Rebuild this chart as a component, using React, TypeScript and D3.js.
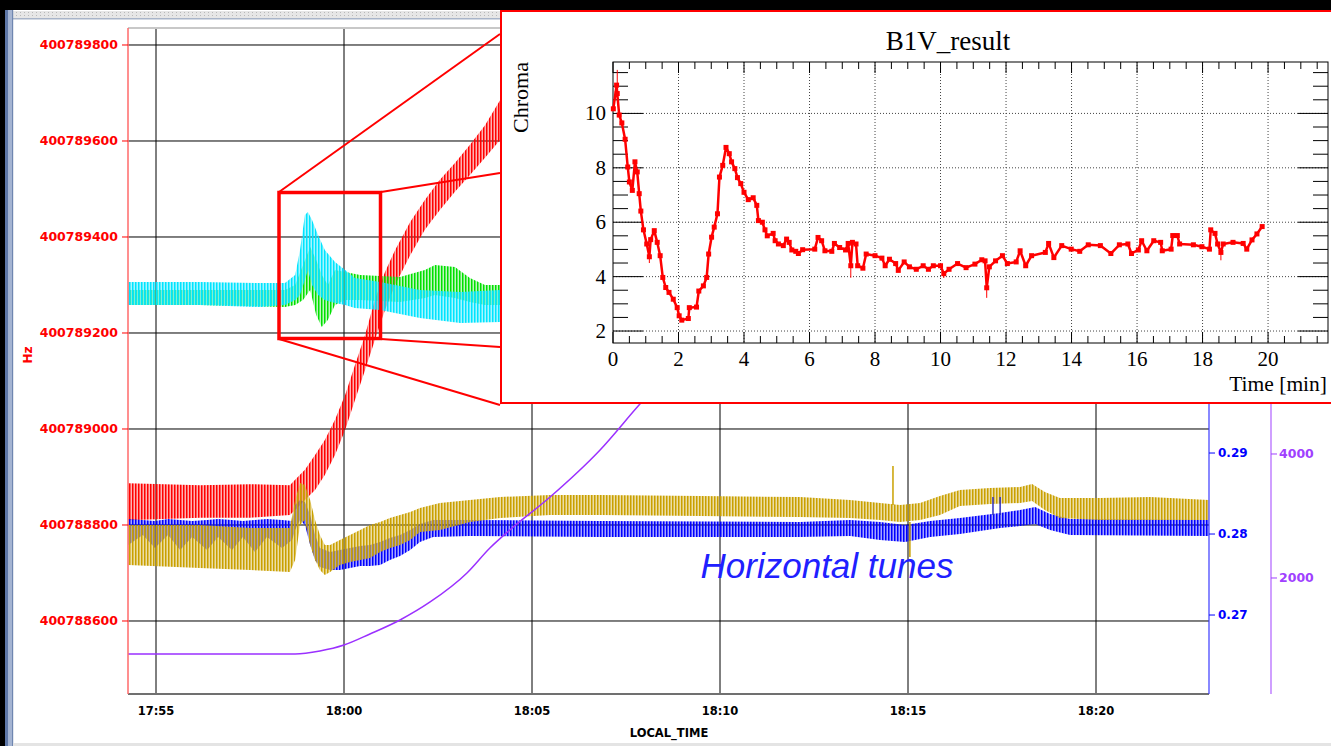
import React from "react";
import * as d3 from "d3";

const W = 1331;
const H = 746;

// ---------- main chart data (time = minutes after 17:00) ----------
const timeTicks = [55, 60, 65, 70, 75, 80];
const timeTickLabels = ["17:55", "18:00", "18:05", "18:10", "18:15", "18:20"];
const hzTicks = [400788600, 400788800, 400789000, 400789200, 400789400, 400789600, 400789800];
const tuneTicks = [0.27, 0.28, 0.29];
const currentTicks = [2000, 4000];

// RF frequency (Hz) envelope
const redT = [54.26, 56.17, 57.5, 58.56, 58.7, 58.96, 59.23, 59.49, 59.76, 60.03, 60.29, 60.56, 60.82, 61.09, 61.36, 61.76, 62.15, 62.55, 62.95, 63.35, 63.75, 64.15, 64.55];
const redLo = [400788810, 400788815, 400788815, 400788821, 400788831, 400788852, 400788873, 400788904, 400788946, 400788998, 400789060, 400789123, 400789185, 400789248, 400789300, 400789362, 400789415, 400789456, 400789494, 400789529, 400789565, 400789602, 400789630];
const redHi = [400788887, 400788883, 400788885, 400788883, 400788894, 400788915, 400788946, 400788977, 400789019, 400789071, 400789133, 400789196, 400789269, 400789327, 400789373, 400789431, 400789477, 400789519, 400789554, 400789592, 400789633, 400789685, 400789715];

// vertical tunes (cyan / green)
const cyanT = [54.26, 56.17, 57.77, 58.43, 58.7, 58.83, 58.96, 59.04, 59.15, 59.31, 59.49, 59.76, 60.03, 60.29, 60.96, 62.02, 63.09, 64.15, 64.68];
const cyanLo = [0.30827, 0.30827, 0.30802, 0.30827, 0.30889, 0.30951, 0.31136, 0.31259, 0.31074, 0.30951, 0.30889, 0.30852, 0.30827, 0.3079, 0.30765, 0.30667, 0.30605, 0.30617, 0.3062];
const cyanHi = [0.31111, 0.31111, 0.31099, 0.31099, 0.31198, 0.31506, 0.31938, 0.31975, 0.31877, 0.31691, 0.31506, 0.31358, 0.31259, 0.3116, 0.31111, 0.31012, 0.30988, 0.31012, 0.31];

const greenT = [54.26, 56.17, 58.43, 58.7, 58.91, 59.1, 59.26, 59.41, 59.57, 59.76, 60.03, 60.43, 61.49, 62.15, 62.42, 62.95, 63.35, 63.75, 64.15, 64.68];
const greenLo = [0.30827, 0.30827, 0.30802, 0.30827, 0.30889, 0.31012, 0.30704, 0.30556, 0.30642, 0.30827, 0.30889, 0.30889, 0.30864, 0.30914, 0.30951, 0.30914, 0.30864, 0.30827, 0.30827, 0.30827];
const greenHi = [0.31012, 0.31012, 0.31012, 0.31074, 0.31321, 0.31543, 0.31383, 0.31198, 0.31074, 0.31259, 0.31235, 0.31198, 0.31173, 0.31259, 0.31321, 0.31296, 0.3116, 0.31074, 0.31074, 0.31074];

// horizontal tunes (blue / gold)
const blueT = [54.26, 54.65, 54.97, 55.32, 55.64, 55.96, 56.36, 56.65, 57.02, 57.31, 57.63, 57.95, 58.35, 58.62, 58.7, 58.83, 58.96, 59.1, 59.23, 59.36, 59.63, 59.89, 60.16, 60.43, 60.69, 60.96, 61.22, 61.49, 61.76, 62.02, 62.37, 63.35, 66.81, 72.13, 73.46, 74.26, 74.92, 75.59, 76.38, 77.45, 77.98, 78.38, 78.78, 79.31, 83.0];
const blueLo = [0.27864, 0.27988, 0.27827, 0.27988, 0.27802, 0.27963, 0.27802, 0.27963, 0.27802, 0.27963, 0.27778, 0.27963, 0.27827, 0.27926, 0.28049, 0.28173, 0.28111, 0.27864, 0.27679, 0.27593, 0.27556, 0.27556, 0.2758, 0.27605, 0.27605, 0.27617, 0.27679, 0.27728, 0.27802, 0.27901, 0.27963, 0.27975, 0.27963, 0.27963, 0.27975, 0.27926, 0.27901, 0.27963, 0.28, 0.28074, 0.28099, 0.28123, 0.28049, 0.27988, 0.27975];
const blueHi = [0.28185, 0.28173, 0.2816, 0.28185, 0.28173, 0.2816, 0.28173, 0.28185, 0.28173, 0.2816, 0.28173, 0.28185, 0.28173, 0.2816, 0.28358, 0.2842, 0.28395, 0.28235, 0.27988, 0.27827, 0.27778, 0.27802, 0.27827, 0.27852, 0.27864, 0.27901, 0.27951, 0.27988, 0.28049, 0.28123, 0.28173, 0.28173, 0.2816, 0.28148, 0.28173, 0.28148, 0.28111, 0.2816, 0.28198, 0.28259, 0.28296, 0.28333, 0.28247, 0.28185, 0.28173];

const goldT = [54.26, 56.17, 57.5, 58.56, 58.7, 58.83, 58.96, 59.1, 59.23, 59.36, 59.49, 59.63, 59.89, 60.16, 60.43, 60.69, 60.96, 61.22, 61.49, 61.76, 62.02, 62.55, 63.35, 64.15, 65.48, 66.81, 69.47, 72.13, 73.46, 74.26, 74.79, 75.32, 75.85, 76.38, 77.18, 77.98, 78.3, 78.64, 79.04, 80.11, 81.44, 83.0];
const goldLo = [0.27617, 0.2758, 0.27556, 0.27531, 0.27679, 0.28111, 0.28173, 0.27864, 0.27679, 0.27556, 0.27494, 0.27531, 0.27617, 0.27654, 0.27679, 0.27704, 0.27778, 0.27827, 0.27864, 0.27926, 0.28025, 0.28049, 0.28148, 0.28198, 0.28235, 0.28235, 0.28222, 0.2821, 0.28198, 0.28173, 0.28148, 0.28173, 0.28235, 0.28346, 0.2837, 0.28383, 0.28408, 0.28296, 0.28198, 0.28173, 0.28173, 0.28173];
const goldHi = [0.28111, 0.28111, 0.28074, 0.28074, 0.2842, 0.2863, 0.28605, 0.2842, 0.28173, 0.27988, 0.27864, 0.27864, 0.27926, 0.27988, 0.28049, 0.28111, 0.28148, 0.28198, 0.28235, 0.28272, 0.28321, 0.28383, 0.2842, 0.28457, 0.28481, 0.28481, 0.28469, 0.28457, 0.2842, 0.28383, 0.28358, 0.28383, 0.28469, 0.28543, 0.28568, 0.2858, 0.28617, 0.28519, 0.28444, 0.28444, 0.28457, 0.2842];
const goldSpikeT = [74.6, 75.05];
const goldSpikeLo = [0.28358, 0.27716];
const goldSpikeHi = [0.2884, 0.28148];
const blueSpikeT = [77.26, 77.45];
const blueSpikeLo = [0.28235, 0.28235];
const blueSpikeHi = [0.28457, 0.28457];

// beam current (purple)
const curT = [54.26, 58.7, 59.36, 60.0, 60.69, 61.49, 62.29, 63.27, 63.88, 64.41, 65.48, 66.81, 67.87, 69.47];
const curV = [774, 774, 823, 919, 1097, 1323, 1613, 2081, 2484, 2774, 3306, 4065, 4806, 5839];

// ---------- inset data ----------
const chromaT = [0.01, 0.11, 0.13, 0.19, 0.27, 0.37, 0.45, 0.5, 0.59, 0.67, 0.74, 0.8, 0.85, 0.93, 1.03, 1.11, 1.15, 1.26, 1.35, 1.44, 1.52, 1.61, 1.71, 1.84, 1.96, 2.02, 2.1, 2.3, 2.33, 2.55, 2.62, 2.76, 2.86, 2.92, 3.01, 3.09, 3.19, 3.25, 3.35, 3.45, 3.55, 3.62, 3.72, 3.8, 3.9, 4.0, 4.13, 4.28, 4.39, 4.44, 4.56, 4.64, 4.71, 4.89, 4.95, 5.05, 5.2, 5.3, 5.38, 5.46, 5.58, 5.66, 5.79, 6.16, 6.26, 6.37, 6.47, 6.68, 6.76, 6.92, 7.1, 7.18, 7.26, 7.31, 7.42, 7.47, 7.63, 7.73, 8.0, 8.21, 8.31, 8.44, 8.63, 8.71, 8.89, 9.05, 9.26, 9.47, 9.63, 9.78, 10.0, 10.1, 10.26, 10.52, 10.78, 11.05, 11.26, 11.36, 11.41, 11.49, 11.68, 11.89, 12.04, 12.31, 12.43, 12.6, 12.78, 13.2, 13.3, 13.46, 13.7, 13.99, 14.25, 14.51, 14.88, 15.2, 15.46, 15.72, 15.83, 16.04, 16.14, 16.3, 16.51, 16.72, 16.77, 17.04, 17.09, 17.23, 17.3, 17.72, 17.98, 18.21, 18.25, 18.38, 18.46, 18.56, 18.63, 18.93, 19.24, 19.35, 19.51, 19.66, 19.82];
const chromaV = [10.17, 11.04, 10.73, 9.94, 9.65, 9.05, 8.03, 7.48, 7.17, 8.22, 7.85, 7.05, 6.41, 5.72, 5.2, 4.73, 5.36, 5.69, 5.26, 4.77, 3.97, 3.6, 3.42, 3.17, 2.86, 2.56, 2.4, 2.46, 2.86, 2.88, 3.47, 3.66, 3.97, 4.83, 5.45, 5.82, 6.31, 7.66, 8.09, 8.75, 8.52, 8.22, 7.97, 7.64, 7.42, 7.1, 6.83, 6.9, 6.62, 6.06, 6.0, 5.72, 5.5, 5.59, 5.32, 5.2, 5.14, 5.38, 5.26, 4.98, 4.93, 4.85, 4.99, 5.01, 5.44, 5.32, 4.95, 4.93, 5.22, 5.07, 4.98, 5.22, 4.4, 5.26, 5.2, 4.4, 4.31, 4.83, 4.77, 4.68, 4.4, 4.64, 4.48, 4.23, 4.54, 4.36, 4.27, 4.4, 4.27, 4.4, 4.4, 4.11, 4.27, 4.48, 4.33, 4.46, 4.62, 4.58, 3.59, 4.36, 4.58, 4.77, 4.48, 4.54, 4.95, 4.4, 4.77, 4.89, 5.22, 4.7, 5.14, 5.01, 4.93, 5.17, 5.14, 4.85, 5.17, 5.2, 4.85, 4.98, 5.32, 4.95, 5.32, 5.26, 4.95, 5.01, 5.51, 5.51, 5.2, 5.17, 5.1, 5.01, 5.72, 5.59, 5.2, 4.89, 5.2, 5.26, 5.22, 5.01, 5.35, 5.57, 5.84];
const errT = [0.13, 1.11, 7.26, 10.1, 11.41, 18.56];
const errLo = [10.7, 4.5, 3.96, 3.95, 3.22, 4.6];
const errHi = [11.6, 4.9, 4.6, 4.2, 3.9, 5.0];
const insetXTicks = [0, 2, 4, 6, 8, 10, 12, 14, 16, 18, 20];
const insetYTicks = [2, 4, 6, 8, 10];

type Band = { t: number; lo: number; hi: number };
const zipBand = (t: number[], lo: number[], hi: number[]): Band[] =>
  t.map((tt, i) => ({ t: tt, lo: lo[i], hi: hi[i] }));

const SANS = "'DejaVu Sans', Verdana, sans-serif";
const SERIF = "'Liberation Serif', 'Times New Roman', serif";

function Stripe({ id, color, bg }: { id: string; color: string; bg: number }) {
  return (
    <pattern id={id} patternUnits="userSpaceOnUse" width={3} height={10}>
      <rect width={3} height={10} fill={color} fillOpacity={bg} />
      <rect width={1.5} height={10} fill={color} />
    </pattern>
  );
}

export default function App() {
  const L = 128, R = 1209, T = 28, B = 694;
  const x = d3.scaleLinear().domain([54.255, 83.005]).range([L, R]);
  const yHz = d3.scaleLinear().domain([400788447.9, 400789835.4]).range([B, T]);
  const yTune = d3.scaleLinear().domain([0.26025, 0.34247]).range([B, T]);
  const yCur = d3.scaleLinear().domain([129, 10871]).range([B, T]);

  const bandPath = (data: Band[], y: d3.ScaleLinear<number, number>) =>
    d3.area<Band>().x((d) => x(d.t)).y0((d) => y(d.lo)).y1((d) => y(d.hi))(data) || "";

  const red = zipBand(redT, redLo, redHi);
  const cyan = zipBand(cyanT, cyanLo, cyanHi);
  const green = zipBand(greenT, greenLo, greenHi);
  const blue = zipBand(blueT, blueLo, blueHi);
  const gold = zipBand(goldT, goldLo, goldHi);
  const goldSpikes = zipBand(goldSpikeT, goldSpikeLo, goldSpikeHi);
  const blueSpikes = zipBand(blueSpikeT, blueSpikeLo, blueSpikeHi);

  const curLine =
    d3.line<number>().x((_, i) => x(curT[i])).y((v) => yCur(v)).curve(d3.curveMonotoneX)(curV) || "";

  // inset
  const iL = 613, iR = 1328, iT = 62, iB = 343;
  const ix = d3.scaleLinear().domain([0, 21.83]).range([iL, iR]);
  const iy = d3.scaleLinear().domain([1.56, 11.89]).range([iB, iT]);
  const chromaLine =
    d3.line<number>().x((_, i) => ix(chromaT[i])).y((v) => iy(v))(chromaV) || "";
  const xMinor = d3.range(0, 21.83, 0.5).filter((v) => Math.abs(v / 2 - Math.round(v / 2)) > 1e-6);
  const yMinor = d3.range(2, 11.89, 0.5).filter((v) => Math.abs(v / 2 - Math.round(v / 2)) > 1e-6);

  return (
    <svg
      width={W}
      height={H}
      viewBox={`0 0 ${W} ${H}`}
      style={{ position: "absolute", left: 0, top: 0, display: "block" }}
    >
      <defs>
        <Stripe id="st-red" color="#ff0000" bg={0.3} />
        <Stripe id="st-cyan" color="#00e4ff" bg={0.35} />
        <Stripe id="st-green" color="#00e000" bg={0.25} />
        <Stripe id="st-blue" color="#0000ff" bg={0.35} />
        <Stripe id="st-gold" color="#c9a000" bg={0.35} />
        <pattern id="dots" patternUnits="userSpaceOnUse" width={4} height={3}>
          <rect width={4} height={3} fill="#e6e6e6" />
          <rect width={1} height={1} fill="#b8b8b8" />
        </pattern>
        <clipPath id="plotClip">
          <rect x={L} y={T} width={R - L} height={B - T} />
        </clipPath>
      </defs>

      {/* window chrome */}
      <rect width={W} height={H} fill="#000" />
      <rect x={13} y={10} width={W - 13} height={H - 10} fill="#ffffff" />
      <rect x={13} y={11} width={W - 13} height={7} fill="url(#dots)" />
      <rect x={13} y={18} width={W - 13} height={1.5} fill="#a8b4c8" />
      <rect x={5} y={10} width={3} height={H - 10} fill="#5f78a8" />
      <rect x={8} y={10} width={4} height={H - 10} fill="#a4b4d2" />
      <rect x={12} y={10} width={1.2} height={H - 10} fill="#6f86b0" />
      <rect x={13} y={743} width={W - 13} height={3} fill="#e4e4e4" />

      {/* gridlines */}
      {hzTicks.map((v) => (
        <line key={"hg" + v} x1={L} x2={R} y1={yHz(v)} y2={yHz(v)} stroke="#000" strokeWidth={1} />
      ))}
      {timeTicks.map((v) => (
        <line key={"vg" + v} x1={x(v)} x2={x(v)} y1={T} y2={B} stroke="#000" strokeWidth={1} />
      ))}

      {/* series */}
      <g clipPath="url(#plotClip)">
        <path d={bandPath(red, yHz)} fill="url(#st-red)" />
        <path d={bandPath(green, yTune)} fill="url(#st-green)" />
        <path d={bandPath(cyan, yTune)} fill="url(#st-cyan)" />
        <path d={bandPath(blue, yTune)} fill="url(#st-blue)" />
        <path d={bandPath(gold, yTune)} fill="url(#st-gold)" />
        {goldSpikes.map((d, i) => (
          <line key={"gs" + i} x1={x(d.t)} x2={x(d.t)} y1={yTune(d.lo)} y2={yTune(d.hi)} stroke="#c9a000" strokeWidth={1.5} />
        ))}
        {blueSpikes.map((d, i) => (
          <line key={"bs" + i} x1={x(d.t)} x2={x(d.t)} y1={yTune(d.lo)} y2={yTune(d.hi)} stroke="#3030c0" strokeWidth={1.5} />
        ))}
        <path d={curLine} fill="none" stroke="#9b30ff" strokeWidth={1.5} />
      </g>

      {/* axes frame */}
      <line x1={L} x2={R} y1={T} y2={T} stroke="#c8c8c8" strokeWidth={2} />
      <line x1={L} x2={R} y1={B} y2={B} stroke="#707070" strokeWidth={2} />
      <line x1={L} x2={L} y1={T} y2={B} stroke="#ff6a6a" strokeWidth={1.5} />
      <line x1={R} x2={R} y1={T} y2={B} stroke="#3a3aff" strokeWidth={1.2} />
      <line x1={1271} x2={1271} y1={T} y2={B} stroke="#b060ff" strokeWidth={1.2} />

      {/* left Hz axis */}
      {hzTicks.map((v) => (
        <g key={"hz" + v}>
          <line x1={L - 6} x2={L} y1={yHz(v)} y2={yHz(v)} stroke="#ff0000" strokeWidth={1} />
          <text x={L - 10} y={yHz(v)} dominantBaseline="central" textAnchor="end" fill="#ff0000"
            fontFamily={SANS} fontWeight="bold" fontSize={12.5}>
            {v}
          </text>
        </g>
      ))}
      <text transform="translate(28,355) rotate(-90)" textAnchor="middle" dominantBaseline="central"
        fill="#ff0000" fontFamily={SANS} fontWeight="bold" fontSize={12}>Hz</text>

      {/* bottom time axis */}
      {timeTicks.map((v, i) => (
        <text key={"tl" + v} x={x(v)} y={711} textAnchor="middle" dominantBaseline="central" fill="#000"
          fontFamily={SANS} fontWeight="bold" fontSize={11.5}>
          {timeTickLabels[i]}
        </text>
      ))}
      <text x={669} y={733} textAnchor="middle" dominantBaseline="central" fill="#000"
        fontFamily={SANS} fontWeight="bold" fontSize={11.5}>LOCAL_TIME</text>

      {/* right tune axis */}
      {tuneTicks.map((v) => (
        <g key={"tu" + v}>
          <line x1={R} x2={R + 6} y1={yTune(v)} y2={yTune(v)} stroke="#0000ff" strokeWidth={1} />
          <text x={R + 9} y={yTune(v)} dominantBaseline="central" fill="#0000ff"
            fontFamily={SANS} fontWeight="bold" fontSize={12}>
            {v.toFixed(2)}
          </text>
        </g>
      ))}
      {/* right current axis */}
      {currentTicks.map((v) => (
        <g key={"cu" + v}>
          <line x1={1271} x2={1277} y1={yCur(v)} y2={yCur(v)} stroke="#a040ff" strokeWidth={1} />
          <text x={1279} y={yCur(v)} dominantBaseline="central" fill="#a040ff"
            fontFamily={SANS} fontWeight="bold" fontSize={12.5}>
            {v}
          </text>
        </g>
      ))}

      <text x={827} y={578} textAnchor="middle" fill="#2020ff" fontFamily="'Liberation Sans', Arial, sans-serif"
        fontStyle="italic" fontSize={35}>Horizontal tunes</text>

      {/* zoom box and connectors */}
      <rect x={279} y={192.5} width={101.5} height={146} fill="none" stroke="#ff0000" strokeWidth={3.5} />
      <line x1={279} y1={192} x2={500} y2={34} stroke="#ff0000" strokeWidth={2} />
      <line x1={381} y1={192} x2={500} y2={173} stroke="#ff0000" strokeWidth={2} />
      <line x1={381} y1={339} x2={500} y2={347} stroke="#ff0000" strokeWidth={2} />
      <line x1={279} y1={339} x2={500} y2={405} stroke="#ff0000" strokeWidth={2} />

      {/* inset */}
      <rect x={501} y={11} width={840} height={392} fill="#ffffff" stroke="#ff0000" strokeWidth={2} />
      <text x={948} y={50} textAnchor="middle" fontFamily={SERIF} fontSize={27} fill="#000">B1V_result</text>
      <text transform={`translate(528,${iT}) rotate(-90)`} textAnchor="end" fontFamily={SERIF} fontSize={22} fill="#000">
        Chroma
      </text>

      {/* inset grid */}
      {insetXTicks.filter((v) => v > 0).map((v) => (
        <line key={"ixg" + v} x1={ix(v)} x2={ix(v)} y1={iT} y2={iB} stroke="#444" strokeWidth={1} strokeDasharray="1 2" />
      ))}
      {insetYTicks.map((v) => (
        <line key={"iyg" + v} x1={iL} x2={iR} y1={iy(v)} y2={iy(v)} stroke="#444" strokeWidth={1} strokeDasharray="1 2" />
      ))}

      {/* inset ticks */}
      {insetXTicks.map((v) => (
        <g key={"ixt" + v}>
          <line x1={ix(v)} x2={ix(v)} y1={iB} y2={iB - 11} stroke="#000" />
          <line x1={ix(v)} x2={ix(v)} y1={iT} y2={iT + 11} stroke="#000" />
          <text x={ix(v)} y={359} textAnchor="middle" dominantBaseline="central" fontFamily={SERIF} fontSize={21} fill="#000">
            {v}
          </text>
        </g>
      ))}
      {xMinor.map((v) => (
        <g key={"ixm" + v}>
          <line x1={ix(v)} x2={ix(v)} y1={iB} y2={iB - 7} stroke="#000" />
          <line x1={ix(v)} x2={ix(v)} y1={iT} y2={iT + 7} stroke="#000" />
        </g>
      ))}
      {insetYTicks.map((v) => (
        <g key={"iyt" + v}>
          <line x1={iL} x2={iL + 30} y1={iy(v)} y2={iy(v)} stroke="#000" />
          <line x1={iR} x2={iR - 30} y1={iy(v)} y2={iy(v)} stroke="#000" />
          <text x={606} y={iy(v)} textAnchor="end" dominantBaseline="central" fontFamily={SERIF} fontSize={21} fill="#000">
            {v}
          </text>
        </g>
      ))}
      {yMinor.map((v) => (
        <g key={"iym" + v}>
          <line x1={iL} x2={iL + 15} y1={iy(v)} y2={iy(v)} stroke="#000" />
          <line x1={iR} x2={iR - 15} y1={iy(v)} y2={iy(v)} stroke="#000" />
        </g>
      ))}
      <rect x={iL} y={iT} width={iR - iL} height={iB - iT} fill="none" stroke="#000" strokeWidth={1} />
      <text x={1327} y={391} textAnchor="end" fontFamily={SERIF} fontSize={21.5} fill="#000">Time [min]</text>

      {/* inset data */}
      <g>
        {errT.map((t, i) => (
          <line key={"err" + i} x1={ix(t)} x2={ix(t)} y1={iy(errLo[i])} y2={iy(errHi[i])} stroke="#ff0000" strokeWidth={1} />
        ))}
        <path d={chromaLine} fill="none" stroke="#ff0000" strokeWidth={2.5} strokeLinejoin="round" />
        {chromaV.map((v, i) => (
          <rect key={"m" + i} x={ix(chromaT[i]) - 2.5} y={iy(v) - 2.5} width={5} height={5} fill="#ff0000" />
        ))}
      </g>
    </svg>
  );
}
